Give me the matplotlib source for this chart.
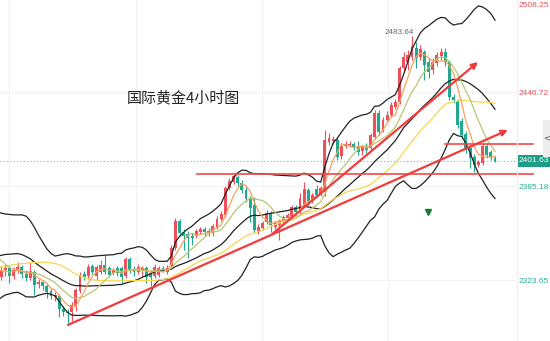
import numpy as np
import pandas as pd
import matplotlib
matplotlib.use("Agg")
import matplotlib.pyplot as plt
from matplotlib.transforms import blended_transform_factory
from matplotlib.patches import Rectangle

plt.rcParams['font.family'] = ['Noto Sans CJK SC', 'DejaVu Sans']

# 4h candles, oldest first
opens = [2325.6, 2330.2, 2331.5, 2326.2, 2329.5, 2332.1, 2327.5, 2324.9, 2328.8, 2321.0,
         2322.3, 2319.7, 2316.4, 2312.5, 2313.1, 2304.6, 2302.7, 2302.7, 2306.6, 2316.4,
         2327.5, 2326.2, 2332.8, 2326.2, 2328.8, 2333.4, 2331.5, 2328.2, 2331.5, 2331.5,
         2326.2, 2337.4, 2330.8, 2328.8, 2330.2, 2331.5, 2328.2, 2326.2, 2326.9, 2331.5,
         2328.8, 2332.8, 2344.6, 2362.2, 2355.0, 2353.7, 2352.4, 2352.4, 2355.0, 2357.0,
         2355.7, 2354.4, 2358.3, 2363.5, 2366.2, 2383.8, 2387.8, 2391.0, 2387.1, 2382.5,
         2377.3, 2372.7, 2355.0, 2357.6, 2361.6, 2367.5, 2358.3, 2359.6, 2362.2, 2364.2,
         2364.9, 2371.4, 2368.1, 2372.7, 2382.5, 2375.3, 2383.2, 2379.9, 2381.2, 2413.9,
         2414.6, 2415.3, 2404.8, 2411.3, 2412.0, 2412.6, 2411.3, 2408.1, 2410.7, 2410.0,
         2417.2, 2432.9, 2421.8, 2428.3, 2431.6, 2436.9, 2440.1, 2462.4, 2466.3, 2469.6,
         2475.5, 2469.6, 2472.9, 2466.3, 2461.1, 2465.7, 2470.2, 2472.9, 2466.3, 2443.4,
         2440.8, 2427.7, 2419.2, 2410.0, 2404.1, 2398.9, 2400.2, 2411.3, 2407.4, 2403.5]
highs = [2332.8, 2334.1, 2332.8, 2332.1, 2335.4, 2333.4, 2330.2, 2335.4, 2330.2, 2324.3,
         2323.6, 2321.0, 2317.7, 2315.8, 2314.5, 2306.6, 2304.6, 2309.2, 2318.4, 2328.8,
         2329.5, 2334.1, 2334.1, 2333.4, 2336.7, 2340.0, 2332.8, 2331.5, 2332.8, 2332.8,
         2338.7, 2338.7, 2332.8, 2334.1, 2332.8, 2332.8, 2330.2, 2334.1, 2332.8, 2332.8,
         2333.4, 2346.5, 2364.2, 2363.5, 2357.0, 2355.7, 2354.4, 2357.0, 2358.3, 2358.3,
         2357.6, 2360.3, 2365.5, 2368.8, 2385.1, 2390.4, 2393.0, 2392.3, 2389.1, 2384.5,
         2378.6, 2377.9, 2360.3, 2362.2, 2369.4, 2368.8, 2362.2, 2363.5, 2366.2, 2367.5,
         2372.7, 2372.7, 2380.6, 2387.8, 2383.8, 2380.6, 2385.8, 2385.1, 2421.8, 2419.8,
         2417.9, 2417.2, 2413.3, 2414.6, 2414.6, 2413.9, 2414.6, 2412.0, 2413.3, 2419.8,
         2434.9, 2434.9, 2430.3, 2434.2, 2440.1, 2442.1, 2463.7, 2472.9, 2474.2, 2483.64,
         2479.4, 2477.4, 2474.2, 2468.9, 2468.9, 2472.9, 2475.5, 2475.5, 2467.6, 2445.4,
         2442.1, 2429.7, 2421.2, 2412.0, 2406.1, 2402.2, 2413.3, 2413.3, 2408.7, 2404.8]
lows = [2323.6, 2326.2, 2321.6, 2324.3, 2328.2, 2324.9, 2322.9, 2323.6, 2313.8, 2318.4,
        2317.1, 2311.8, 2311.2, 2309.9, 2299.4, 2300.1, 2295.5, 2296.8, 2303.3, 2315.1,
        2323.6, 2324.3, 2327.5, 2323.6, 2327.5, 2327.5, 2325.6, 2326.9, 2326.2, 2321.6,
        2324.9, 2328.2, 2326.2, 2327.5, 2326.2, 2321.6, 2319.7, 2324.9, 2325.6, 2328.8,
        2327.5, 2330.8, 2343.3, 2352.4, 2343.3, 2338.0, 2346.5, 2351.1, 2353.7, 2352.4,
        2352.4, 2352.4, 2357.0, 2362.2, 2364.9, 2382.5, 2386.4, 2385.1, 2380.6, 2374.7,
        2361.6, 2354.4, 2353.7, 2356.3, 2360.3, 2355.0, 2357.0, 2349.8, 2360.9, 2362.9,
        2363.5, 2366.2, 2366.8, 2371.4, 2372.7, 2374.0, 2377.9, 2378.6, 2378.6, 2412.0,
        2412.6, 2402.2, 2402.8, 2410.0, 2410.7, 2408.7, 2405.4, 2405.4, 2406.7, 2408.7,
        2415.9, 2418.5, 2420.5, 2427.0, 2430.3, 2435.6, 2438.8, 2459.8, 2461.1, 2467.6,
        2462.4, 2467.6, 2454.5, 2455.8, 2458.5, 2463.7, 2467.6, 2463.7, 2441.4, 2439.5,
        2423.1, 2416.6, 2406.7, 2396.9, 2394.3, 2397.6, 2398.9, 2403.5, 2402.2, 2400.9]
closes = [2330.2, 2331.5, 2326.2, 2330.2, 2332.1, 2327.5, 2324.9, 2329.5, 2320.3, 2322.3,
          2319.7, 2315.8, 2313.1, 2313.8, 2304.6, 2302.7, 2302.0, 2307.2, 2317.1, 2326.9,
          2325.6, 2332.1, 2328.8, 2332.1, 2333.4, 2328.8, 2326.9, 2330.2, 2328.2, 2325.6,
          2337.4, 2330.2, 2328.8, 2332.1, 2331.5, 2325.6, 2325.6, 2332.1, 2331.5, 2330.2,
          2331.5, 2344.6, 2362.2, 2354.4, 2352.4, 2351.1, 2351.1, 2355.7, 2357.0, 2355.0,
          2354.4, 2359.0, 2363.5, 2366.8, 2383.8, 2388.4, 2391.7, 2387.1, 2382.5, 2376.6,
          2370.7, 2356.3, 2358.3, 2360.9, 2367.5, 2359.6, 2360.9, 2362.2, 2364.9, 2366.2,
          2371.4, 2368.1, 2377.3, 2383.2, 2374.7, 2379.3, 2379.3, 2383.8, 2415.3, 2416.6,
          2415.9, 2404.1, 2411.3, 2412.6, 2412.6, 2410.7, 2407.4, 2410.7, 2408.7, 2418.5,
          2432.9, 2420.5, 2428.3, 2431.6, 2438.2, 2440.1, 2462.4, 2469.6, 2470.9, 2476.8,
          2468.9, 2474.8, 2464.4, 2459.8, 2466.3, 2470.9, 2472.9, 2466.3, 2443.4, 2441.4,
          2425.1, 2418.5, 2408.7, 2403.5, 2398.9, 2400.9, 2411.3, 2405.4, 2404.1, 2401.63]

# closes of the bars left of the window, only used to warm up the averages
warmup_closes = [2316.5, 2315.8, 2313.8, 2315.1, 2317.1, 2318.4, 2319.7, 2317.7, 2316.4, 2317.1,
                 2317.1, 2320.3, 2322.3, 2324.9, 2330.2, 2340.0, 2349.8, 2359.6, 2364.2, 2362.9,
                 2357.6, 2355.0, 2348.5, 2341.9, 2336.7, 2333.4, 2331.5, 2330.2, 2328.8, 2327.5]

title = "国际黄金4小时图"
last_price = 2401.63
axis_prices = [2446.72, 2385.18, 2323.65]
top_price = 2508.25
peak_price = 2483.64
peak_bar = 99
week_bars = [1.9, 32.4, 62.9, 93.3]
# drawings: (bar, price)
flat_lines = [(47.2, 2393.0), (107.0, 2412.6)]
flat_end = 128.2
trend_lines = [((16.1, 2294.2), (122.1, 2421.8)),
               ((65.3, 2353.7), (114.9, 2466.3))]
signal = (102.9, 2368.1)

RED = '#ef4f5a'
GREEN = '#22a88f'

fig = plt.figure(figsize=(5.5, 3.41), dpi=100)
ax = fig.add_axes([0, 0, 516 / 550, 1])
ax.set_xlim(-0.28, 124.06)
ax.set_ylim(2283.7, 2506.9)
for s in ax.spines.values():
    s.set_visible(False)
ax.set_xticks([])
ax.set_yticks([])

for b in week_bars:
    ax.axvline(b, color='#f2f2f2', lw=0.8, zorder=0)
for p in axis_prices:
    ax.axhline(p, color='#f2f2f2', lw=0.8, zorder=0)

# indicators
n_w = len(warmup_closes)
allc = pd.Series(warmup_closes + closes)
xi = np.arange(-n_w, len(closes))
ma5 = allc.rolling(5).mean()
ma10 = allc.rolling(10).mean()
ma30 = allc.rolling(30).mean()
mid = allc.rolling(20).mean()
sd = allc.rolling(20).std(ddof=0)
ax.plot(xi, mid + 2 * sd, color='#222222', lw=0.9, zorder=4)
ax.plot(xi, mid, color='#222222', lw=0.9, zorder=4)
ax.plot(xi, mid - 2 * sd, color='#222222', lw=0.9, zorder=4)
ax.plot(xi, ma30, color='#f8d74e', lw=0.9, zorder=4)
ax.plot(xi, ma10, color='#b9c66e', lw=0.9, zorder=4)
ax.plot(xi, ma5, color='#f7a25e', lw=0.9, zorder=4)

# candles
o = np.array(opens); h = np.array(highs); l = np.array(lows); c = np.array(closes)
x = np.arange(len(c))
cols = np.where(c >= o, RED, GREEN)
ax.vlines(x, l, h, colors=cols, lw=0.8, zorder=3)
ax.bar(x, np.maximum(np.abs(c - o), 0.5), 0.7, bottom=np.minimum(o, c),
       color=cols, linewidth=0, zorder=3)

# drawings
for b0, p in flat_lines:
    ax.plot([b0, flat_end], [p, p], color='#f04848', lw=1.2, zorder=5, clip_on=False)
for (b0, p0), (b1, p1) in trend_lines:
    ax.annotate('', xy=(b1, p1), xytext=(b0, p0), zorder=6,
                arrowprops=dict(arrowstyle='-|>', color='#f23c3c', lw=1.6,
                                mutation_scale=9, shrinkA=0, shrinkB=0))
ax.plot([signal[0]], [signal[1]], marker='v', color='#1f7a3a', ms=4, zorder=6)

ax.axhline(last_price, color='#5cc8b8', lw=0.8, ls=(0, (1, 2)), zorder=2)

ax.text(43.8, 2442.7, title, fontsize=10.8, color='#222222', ha='center', va='center')
ax.text(peak_bar + 0.6, peak_price - 0.5, f"{peak_price:.2f}", fontsize=5.9, color='#6b6b6b',
        ha='right', va='bottom', family='Liberation Sans')

# price scale
tr = blended_transform_factory(ax.transAxes, ax.transData)
xl = 1 + 3 / 516
ax.text(xl, 2503.5, f"{top_price:.2f}", transform=tr, fontsize=6.0, color='#e8505b',
        va='center', ha='left', family='Liberation Sans', clip_on=False)
for p in axis_prices:
    col = '#e8505b' if p > last_price else '#2bb19a'
    ax.text(xl, p - 1.2, f"{p:.2f}", transform=tr, fontsize=6.0, color=col,
            va='center', ha='left', family='Liberation Sans', clip_on=False)
ax.text(xl, last_price, f"{last_price:.2f}", transform=tr, fontsize=6.0, color='white',
        va='center', ha='left', family='Liberation Sans', clip_on=False,
        bbox=dict(boxstyle='square,pad=0.3', fc='#1b9e85', ec='none'))

fig.add_artist(Rectangle((543 / 550, 1 - 157 / 341), 7 / 550, 37 / 341,
                         transform=fig.transFigure, fc='#ededed', ec='none'))
fig.text(546.5 / 550, 1 - 138 / 341, '<', fontsize=6, color='#555555',
         ha='center', va='center', family='DejaVu Sans')
fig.add_artist(plt.Line2D([517 / 550, 517 / 550], [0, 1], color='#f0f0f0', lw=0.8))

fig.savefig('out.png', dpi=100)
